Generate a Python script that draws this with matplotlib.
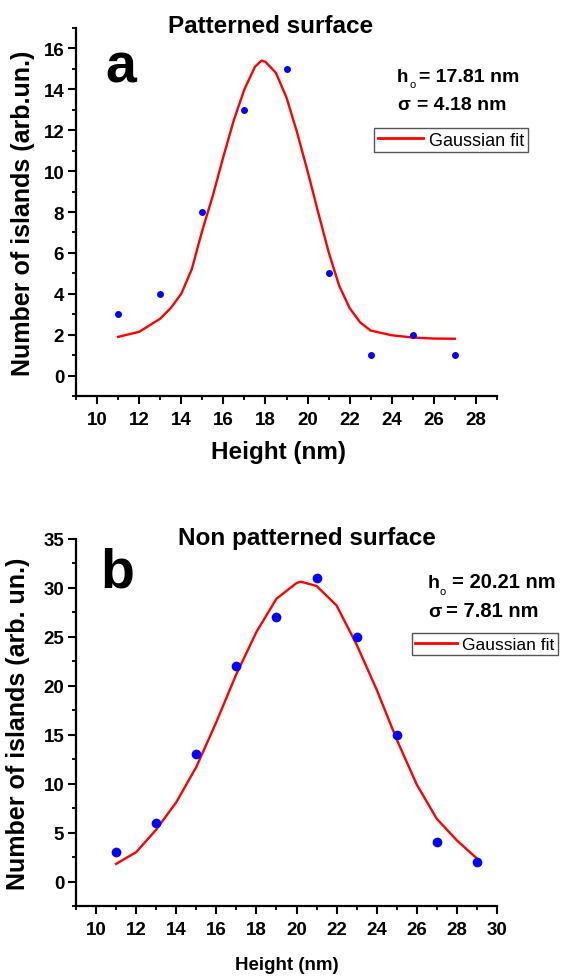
import matplotlib
matplotlib.use('Agg')
import matplotlib.pyplot as plt
from matplotlib.ticker import MultipleLocator
from matplotlib.lines import Line2D

plt.rcParams['font.family'] = ['Liberation Sans', 'DejaVu Sans']
plt.rcParams['font.weight'] = 'bold'

# ---------------- data ----------------
# Panel a: patterned surface
a_height = [11, 13, 15, 17, 19, 21, 23, 25, 27]
a_count = [3, 4, 8, 13, 15, 5, 1, 2, 1]
a_fit_x = [11, 12, 13, 13.5, 14, 14.5, 15, 15.5, 16, 16.5, 17, 17.5, 17.81, 18,
           18.5, 19, 19.5, 20, 20.5, 21, 21.5, 22, 22.5, 23, 24, 25, 26, 27]
a_fit_y = [1.89, 2.14, 2.78, 3.3, 4.0, 5.2, 7.1, 8.8, 10.7, 12.5, 14.0, 15.1, 15.4, 15.35,
           14.8, 13.6, 11.9, 10.0, 8.0, 6.05, 4.4, 3.3, 2.6, 2.2, 1.97, 1.86, 1.81, 1.8]

# Panel b: non patterned surface
b_height = [11, 13, 15, 17, 19, 21, 23, 25, 27, 29]
b_count = [3, 6, 13, 22, 27, 31, 25, 15, 4, 2]
b_fit_x = [11, 12, 13, 14, 15, 16, 17, 18, 19, 20, 20.21, 21, 22, 23, 24, 25, 26, 27, 28, 29]
b_fit_y = [1.8, 3.0, 5.3, 8.1, 11.7, 16.3, 21.2, 25.5, 28.9, 30.5, 30.64, 30.2, 28.2, 24.2,
           19.6, 14.5, 9.9, 6.4, 4.2, 2.35]

a_xticks = [10, 12, 14, 16, 18, 20, 22, 24, 26, 28]
a_yticks = [0, 2, 4, 6, 8, 10, 12, 14, 16]
b_xticks = [10, 12, 14, 16, 18, 20, 22, 24, 26, 28, 30]
b_yticks = [0, 5, 10, 15, 20, 25, 30, 35]

W, H = 561, 979
fig = plt.figure(figsize=(W / 100, H / 100), dpi=100)


def fx(px):
    return px / W


def fy(py):
    return 1 - py / H


def style(ax, xticks, yticks, xminor, yminor):
    for s in ['top', 'right']:
        ax.spines[s].set_visible(False)
    for s in ['left', 'bottom']:
        ax.spines[s].set_linewidth(1.6)
    ax.set_xticks(xticks)
    ax.set_yticks(yticks)
    ax.xaxis.set_minor_locator(MultipleLocator(xminor))
    ax.yaxis.set_minor_locator(MultipleLocator(yminor))
    ax.tick_params(which='major', direction='out', length=5.5, width=1.5, labelsize=13.5, pad=3)
    ax.tick_params(which='minor', direction='out', length=3, width=1.3)
    ax.tick_params(axis='x', which='major', pad=5)


# ---------------- panel a ----------------
axa = fig.add_axes([fx(76), fy(397), 421 / W, 368 / H])
axa.plot(a_fit_x, a_fit_y, color='#FF0000', lw=1.7, zorder=2)
axa.plot(a_height, a_count, 'o', color='#0000FF', ms=5, mec='none', zorder=3)
axa.set_xlim(9, 29)
axa.set_ylim(-1, 17)
style(axa, a_xticks, a_yticks, 1, 1)
axa.set_ylabel('Number of islands (arb.un.)', fontsize=18, fontweight='bold')
axa.yaxis.set_label_coords(-0.098, 0.5)
axa.set_xlabel('Height (nm)', fontsize=17.5, fontweight='bold')
axa.xaxis.set_label_coords(0.482, -0.12)

fig.text(fx(271), fy(33), 'Patterned surface', fontsize=17.5, fontweight='bold', ha='center', va='baseline')
fig.text(fx(105), fy(83), 'a', fontsize=40, fontweight='bold', ha='left', va='baseline')

fig.text(fx(397), fy(82), 'h', fontsize=13.5, fontweight='bold', va='baseline')
fig.text(fx(409), fy(88), 'o', fontsize=8, fontweight='normal', va='baseline')
fig.text(fx(419), fy(82), '= 17.81 nm', fontsize=14, fontweight='bold', va='baseline')
fig.text(fx(397), fy(110), 'σ', fontsize=13.5, fontweight='bold', va='baseline')
fig.text(fx(417), fy(110), '= 4.18 nm', fontsize=14, fontweight='bold', va='baseline')

h_a = Line2D([], [], color='#FF0000', lw=2)
axa.legend([h_a], ['Gaussian fit'], loc='upper left', bbox_to_anchor=(fx(374), fy(129)),
           bbox_transform=fig.transFigure, borderaxespad=0, borderpad=0.2,
           handlelength=2.5, handletextpad=0.35, fancybox=False, framealpha=1,
           edgecolor='#555555', prop={'size': 13, 'weight': 'normal'})
axa.get_legend().get_frame().set_linewidth(1.0)

# ---------------- panel b ----------------
axb = fig.add_axes([fx(76), fy(907), 421 / W, 367 / H])
axb.plot(b_fit_x, b_fit_y, color='#FF0000', lw=1.7, zorder=2)
axb.plot(b_height, b_count, 'o', color='#0000FF', ms=7, mec='none', zorder=3)
axb.set_xlim(9, 30)
axb.set_ylim(-2.5, 35)
style(axb, b_xticks, b_yticks, 1, 2.5)
axb.set_ylabel('Number of islands (arb. un.)', fontsize=18, fontweight='bold')
axb.yaxis.set_label_coords(-0.11, 0.5)
axb.set_xlabel('Height (nm)', fontsize=13.5, fontweight='bold')
axb.xaxis.set_label_coords(0.50, -0.135)

fig.text(fx(307), fy(545), 'Non patterned surface', fontsize=17.5, fontweight='bold', ha='center', va='baseline')
fig.text(fx(100), fy(587), 'b', fontsize=40, fontweight='bold', ha='left', va='baseline')

fig.text(fx(428), fy(588), 'h', fontsize=14, fontweight='bold', va='baseline')
fig.text(fx(440), fy(595), 'o', fontsize=8, fontweight='normal', va='baseline')
fig.text(fx(452), fy(588), '= 20.21 nm', fontsize=14.5, fontweight='bold', va='baseline')
fig.text(fx(428), fy(617), 'σ', fontsize=14, fontweight='bold', va='baseline')
fig.text(fx(446), fy(617), '= 7.81 nm', fontsize=14.5, fontweight='bold', va='baseline')

h_b = Line2D([], [], color='#FF0000', lw=2)
axb.legend([h_b], ['Gaussian fit'], loc='upper left', bbox_to_anchor=(fx(412), fy(634)),
           bbox_transform=fig.transFigure, borderaxespad=0, borderpad=0.2,
           handlelength=2.4, handletextpad=0.3, fancybox=False, framealpha=1,
           edgecolor='#555555', prop={'size': 12.5, 'weight': 'normal'})
axb.get_legend().get_frame().set_linewidth(1.0)

fig.savefig('out.png', dpi=100)
